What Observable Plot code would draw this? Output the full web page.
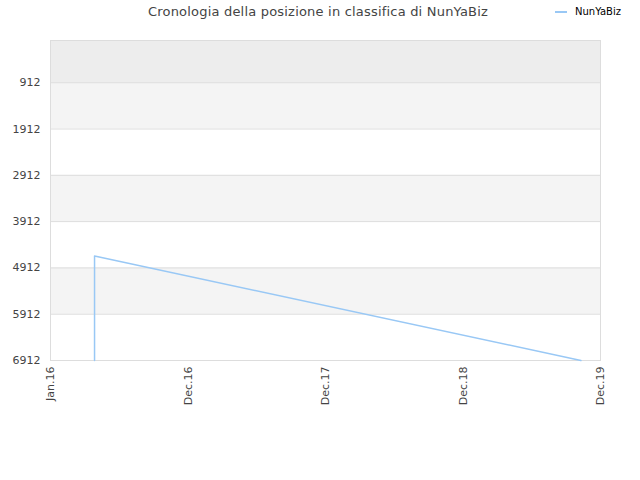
<!DOCTYPE html>
<html><head><meta charset="utf-8">
<script src="https://cdn.jsdelivr.net/npm/d3@7"></script>
<script src="https://cdn.jsdelivr.net/npm/@observablehq/plot@0.6"></script>
<style>
body{margin:0;background:#fff;}
#wrap{position:relative;width:640px;height:480px;font-family:"DejaVu Sans",sans-serif;}
#title{position:absolute;top:4px;left:0;width:636px;text-align:center;font-size:13px;letter-spacing:0.2px;color:#444;}
#legend{position:absolute;top:6px;left:555px;font-size:10px;color:#000;display:flex;align-items:center;}
#legend span.sw{display:inline-block;width:12px;height:2px;background:#99c8f5;margin-right:8px;}
#chart{position:absolute;top:0;left:0;}
</style></head><body>
<div id="wrap">
<div id="chart"></div>
<div id="title">Cronologia della posizione in classifica di NunYaBiz</div>
<div id="legend"><span class="sw"></span>NunYaBiz</div>
</div>
<script>
const seriesName = "NunYaBiz";
const dates = ["2016-03-27","2016-03-27","2019-10-10"];
const ranks = [6912, 4655, 6912];
const yTicks = [912,1912,2912,3912,4912,5912,6912];
const xTickDates = ["2015-12-01","2016-12-01","2017-12-01","2018-12-01","2019-12-01"];
const xTickLabels = ["Jan.16","Dec.16","Dec.17","Dec.18","Dec.19"];
const yDomain = [0, 6912];

const data = dates.map((d,i)=>({date:new Date(d), rank:ranks[i]}));
const tickDates = xTickDates.map(d=>new Date(d));
const labelFor = new Map(tickDates.map((d,i)=>[+d, xTickLabels[i]]));

const bounds = [yDomain[0], ...yTicks];
const bands = [];
for (let i=0;i<bounds.length-1;i++){
  if (i===0) bands.push({y1:bounds[i], y2:bounds[i+1], c:"#ededed"});
  else if (i%2===1) bands.push({y1:bounds[i], y2:bounds[i+1], c:"#f4f4f4"});
}

const chart = Plot.plot({
  width:640, height:480,
  marginTop:40, marginLeft:50, marginRight:40, marginBottom:120,
  style:{fontFamily:"DejaVu Sans, sans-serif", fontSize:"11px", color:"#444", background:"transparent"},
  x:{type:"utc", domain:[tickDates[0], tickDates[tickDates.length-1]]},
  y:{domain:yDomain, reverse:true},
  marks:[
    Plot.rectY(bands, {x1:()=>tickDates[0], x2:()=>tickDates[tickDates.length-1], y1:"y1", y2:"y2", fill:"c"}),
    Plot.ruleY(yTicks, {stroke:"#dddddd", strokeWidth:1}),
    Plot.frame({stroke:"#dddddd"}),
    Plot.axisY(yTicks, {tickSize:0, tickPadding:10, label:null, fill:"#444", tickFormat:d=>String(d)}),
    Plot.axisX(tickDates, {tickSize:0, tickPadding:6, tickRotate:-90, label:null, tickFormat:d=>labelFor.get(+d), fill:"#444"}),
    Plot.line(data, {x:"date", y:"rank", stroke:"#99c8f5", strokeWidth:1.5})
  ]
});
document.getElementById("chart").appendChild(chart);
</script>
</body></html>
